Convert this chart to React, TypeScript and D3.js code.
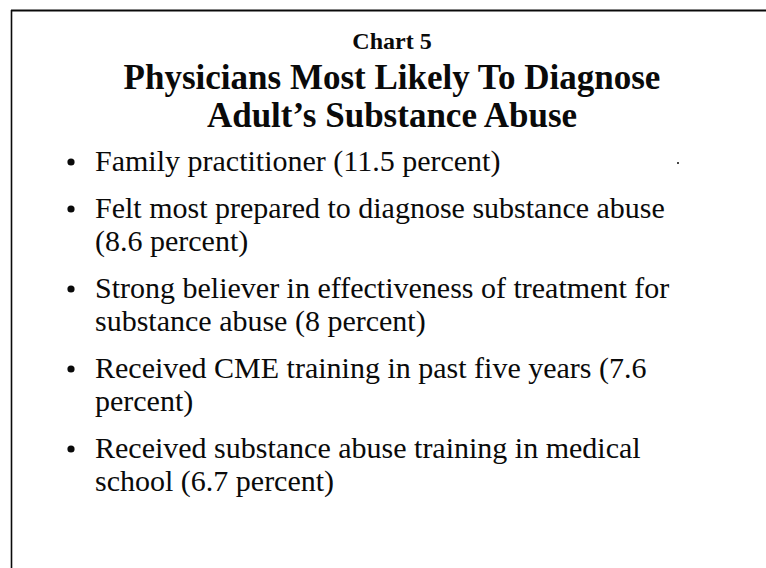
import React, { useEffect, useRef } from 'react';
import * as d3 from 'd3';

const width = 766;
const height = 568;

const chartLabel = 'Chart 5';
const titleLines = ['Physicians Most Likely To Diagnose', 'Adult\u2019s Substance Abuse'];

// each finding, already broken into the lines of the slide
const findings = [
  ['Family practitioner (11.5 percent)'],
  ['Felt most prepared to diagnose substance abuse', '(8.6 percent)'],
  ['Strong believer in effectiveness of treatment for', 'substance abuse (8 percent)'],
  ['Received CME training in past five years (7.6', 'percent)'],
  ['Received substance abuse training in medical', 'school (6.7 percent)'],
];

const ink = '#0a0a0a';
const font = '"Liberation Serif", "Times New Roman", serif';

const lineGap = 33; // between wrapped lines
const itemGap = 47; // between findings

function App() {
  const ref = useRef<SVGSVGElement>(null);

  useEffect(() => {
    const svg = d3.select(ref.current);
    svg.selectAll('*').remove();

    // frame: top and left edges of the scanned slide
    svg.append('line')
      .attr('x1', 11).attr('x2', width).attr('y1', 10.5).attr('y2', 10.5)
      .attr('stroke', ink).attr('stroke-width', 2);
    svg.append('line')
      .attr('x1', 11.5).attr('x2', 11.5).attr('y1', 10).attr('y2', height)
      .attr('stroke', ink).attr('stroke-width', 1.6);

    const cx = 392;
    svg.append('text')
      .attr('x', cx).attr('y', 49)
      .attr('text-anchor', 'middle')
      .attr('font-family', font).attr('font-weight', 'bold').attr('font-size', 24)
      .attr('fill', ink)
      .text(chartLabel);

    svg.selectAll('text.title')
      .data(titleLines)
      .join('text')
      .attr('class', 'title')
      .attr('x', cx)
      .attr('y', (d, i) => 89 + i * 38)
      .attr('text-anchor', 'middle')
      .attr('font-family', font).attr('font-weight', 'bold').attr('font-size', 35)
      .attr('fill', ink)
      .text(d => d);

    // baseline of every finding's first line
    let y = 171;
    const starts = findings.map(lines => {
      const s = y;
      y += (lines.length - 1) * lineGap + itemGap;
      return s;
    });

    const items = svg.selectAll('g.item')
      .data(findings)
      .join('g')
      .attr('class', 'item')
      .attr('transform', (d, i) => `translate(0, ${starts[i]})`);

    items.append('circle')
      .attr('cx', 71).attr('cy', -9).attr('r', 3.6)
      .attr('fill', ink);

    items.selectAll('text')
      .data(d => d)
      .join('text')
      .attr('x', 95)
      .attr('y', (d, i) => i * lineGap)
      .attr('font-family', font).attr('font-size', 30)
      .attr('fill', ink)
      .text(d => d);

    // speck from the scan
    svg.append('circle').attr('cx', 678).attr('cy', 163).attr('r', 1).attr('fill', ink);
  }, []);

  return (
    <svg ref={ref} width={width} height={height}
      style={{ position: 'absolute', left: 0, top: 0, background: '#fff' }} />
  );
}

export default App;
